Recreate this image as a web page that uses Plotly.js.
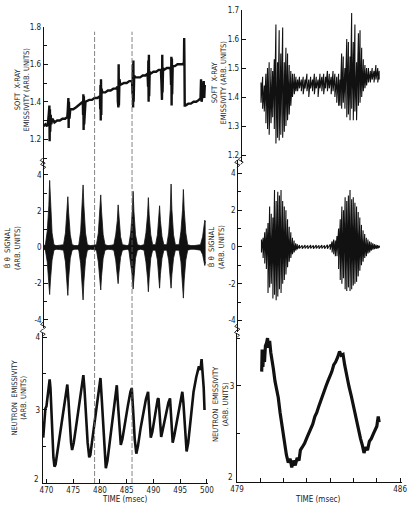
<!DOCTYPE html>
<html><head><meta charset="utf-8">
<script src="https://cdn.plot.ly/plotly-3.0.1.min.js"></script>
<style>html,body{margin:0;padding:0;background:#fff}#chart{width:407px;height:505px}</style>
</head><body><div id="chart"></div>
<script>
// ---------- DATA ----------
// Left column, 470-500 msec
const sxrLeftT = [469.5,469.8,470.1,470.3,470.45,470.5,470.55,470.6,470.65,470.7,470.8,470.9,471.1,471.5,472.0,472.5,473.0,473.5,473.9,474.0,474.05,474.1,474.15,474.2,474.3,474.45,475.0,475.5,476.0,476.5,476.8,476.85,476.9,476.95,477.0,477.05,477.15,477.3,478.0,478.5,479.0,479.5,480.0,480.05,480.1,480.15,480.2,480.25,480.3,480.45,481.0,481.5,482.0,482.5,483.0,483.3,483.35,483.4,483.45,483.5,483.55,483.65,483.8,484.5,485.0,485.5,486.0,486.1,486.15,486.2,486.25,486.3,486.4,486.6,487.0,487.5,488.0,488.5,488.9,489.0,489.05,489.1,489.15,489.2,489.3,489.5,490.0,490.5,491.0,491.4,491.5,491.55,491.6,491.65,491.7,491.8,492.0,492.5,493.0,493.2,493.3,493.35,493.4,493.45,493.5,493.6,494.0,494.5,495.0,495.5,495.7,495.75,495.8,495.85,496.0,496.5,497.0,497.5,498.0,498.5,498.8,498.9,499.0,499.2,499.4,499.5,499.6];
const sxrLeftV = [1.27,1.28,1.27,1.29,1.34,1.22,1.38,1.19,1.36,1.24,1.33,1.28,1.31,1.29,1.30,1.30,1.31,1.31,1.32,1.36,1.27,1.42,1.26,1.40,1.31,1.36,1.36,1.37,1.38,1.39,1.40,1.33,1.44,1.25,1.43,1.28,1.38,1.40,1.41,1.41,1.42,1.42,1.43,1.36,1.49,1.30,1.52,1.33,1.47,1.45,1.45,1.46,1.46,1.47,1.47,1.48,1.40,1.58,1.37,1.60,1.38,1.52,1.49,1.50,1.50,1.51,1.51,1.44,1.60,1.37,1.62,1.40,1.54,1.53,1.53,1.53,1.54,1.54,1.55,1.48,1.62,1.40,1.65,1.43,1.56,1.55,1.56,1.56,1.57,1.57,1.50,1.64,1.41,1.65,1.45,1.58,1.57,1.58,1.58,1.58,1.49,1.64,1.38,1.63,1.44,1.59,1.59,1.60,1.60,1.60,1.61,1.74,1.60,1.38,1.38,1.39,1.39,1.40,1.40,1.41,1.42,1.52,1.40,1.44,1.51,1.42,1.49];

const bLeftT = [469.5,469.8,470.15,470.45,470.6,470.75,471.05,471.4,471.8,472.5,473.2,473.55,473.85,474.0,474.15,474.45,474.8,475.3,475.8,476.05,476.4,476.7,476.85,477.0,477.3,477.65,478.2,478.8,479.35,479.7,480.0,480.15,480.3,480.6,480.95,481.5,482.1,482.6,482.95,483.25,483.4,483.55,483.85,484.2,484.7,485.1,485.4,485.75,486.05,486.2,486.35,486.65,487.0,487.6,488.25,488.6,488.9,489.05,489.2,489.5,489.85,490.4,490.75,491.0,491.15,491.3,491.6,491.95,492.5,492.85,493.15,493.3,493.45,493.75,494.1,494.8,495.15,495.45,495.6,495.75,496.05,496.4,497.0,497.6,498.2,498.8,499.2,499.45,499.6,499.75];
const bLeftUp = [0.1,0.15,0.9,2.3,3.7,2.4,0.8,0.15,0.1,0.12,0.15,0.8,1.9,2.8,1.9,0.7,0.15,0.1,0.1,0.15,0.9,2.2,3.45,2.3,0.8,0.15,0.1,0.12,0.15,0.8,1.9,2.9,2.0,0.7,0.15,0.1,0.12,0.15,0.7,1.5,2.35,1.6,0.6,0.15,0.1,0.1,0.15,0.8,2.0,3.1,2.0,0.7,0.15,0.1,0.15,0.8,1.8,2.75,1.8,0.7,0.15,0.15,0.7,1.5,2.3,1.5,0.6,0.15,0.15,0.8,2.1,3.5,2.1,0.7,0.15,0.15,0.9,2.1,3.2,2.1,0.8,0.15,0.1,0.1,0.12,0.15,0.6,1.2,1.5,1.4];
const bLeftDn = [-0.1,-0.15,-0.8,-1.9,-2.6,-1.8,-0.7,-0.15,-0.1,-0.12,-0.15,-0.8,-1.8,-2.65,-1.7,-0.6,-0.15,-0.1,-0.1,-0.15,-0.9,-2.0,-2.9,-1.9,-0.7,-0.15,-0.1,-0.12,-0.15,-0.8,-1.7,-2.35,-1.6,-0.6,-0.15,-0.1,-0.12,-0.15,-0.7,-1.4,-2.0,-1.4,-0.55,-0.15,-0.1,-0.1,-0.15,-0.8,-1.6,-2.3,-1.6,-0.6,-0.15,-0.1,-0.15,-0.8,-1.7,-2.45,-1.7,-0.6,-0.15,-0.15,-0.7,-1.5,-2.25,-1.5,-0.6,-0.15,-0.15,-0.7,-1.5,-2.25,-1.5,-0.6,-0.15,-0.15,-0.8,-1.9,-2.8,-1.8,-0.7,-0.15,-0.1,-0.1,-0.12,-0.15,-0.4,-0.9,-1.0,-0.8];

const neuLeftT = [469.4,469.6,469.8,470.0,470.2,470.4,470.6,470.75,470.9,471.1,471.3,471.5,471.7,471.9,472.3,472.8,473.3,473.7,473.9,474.1,474.3,474.6,474.8,475.1,475.5,476.0,476.5,476.9,477.1,477.4,477.7,478.0,478.2,478.5,479.0,479.5,479.9,480.1,480.3,480.6,480.9,481.1,481.4,481.8,482.3,482.8,483.15,483.35,483.6,483.9,484.2,484.7,485.2,485.7,485.95,486.2,486.5,486.8,487.1,487.6,488.1,488.6,489.0,489.25,489.5,489.8,490.3,490.8,490.95,491.2,491.45,491.8,492.3,492.8,493.1,493.35,493.6,493.9,494.4,494.9,495.4,495.6,495.9,496.2,496.5,497.0,497.5,498.0,498.5,498.8,499.0,499.2,499.4,499.55];
const neuLeftV = [2.62,2.85,3.02,3.05,3.2,3.3,3.42,3.3,3.0,2.65,2.35,2.22,2.25,2.35,2.55,2.8,3.05,3.25,3.35,3.15,2.85,2.55,2.45,2.55,2.75,3.0,3.3,3.48,3.3,2.9,2.55,2.35,2.38,2.55,2.85,3.15,3.4,3.44,3.2,2.75,2.35,2.2,2.3,2.55,2.85,3.15,3.34,3.1,2.75,2.52,2.6,2.85,3.05,3.25,3.3,3.0,2.6,2.4,2.5,2.75,2.95,3.15,3.25,2.95,2.62,2.7,2.95,3.15,3.16,2.85,2.63,2.75,2.95,3.1,3.16,2.85,2.55,2.65,2.85,3.1,3.25,3.1,2.75,2.43,2.55,2.9,3.25,3.45,3.6,3.55,3.7,3.5,3.3,3.0];

// Right column, expanded 479-486 msec
const sxrRightT  = [480.03,480.10,480.17,480.24,480.31,480.38,480.46,480.53,480.60,480.67,480.74,480.81,480.88,480.96,481.03,481.10,481.17,481.24,481.31,481.38,481.46,481.53,481.60,481.68,481.76,481.84,481.92,482.00,482.08,482.16,482.24,482.32,482.40,482.48,482.56,482.64,482.72,482.80,482.88,482.96,483.04,483.12,483.20,483.28,483.36,483.42,483.49,483.56,483.63,483.71,483.78,483.85,483.92,483.99,484.06,484.13,484.21,484.28,484.35,484.42,484.49,484.56,484.64,484.72,484.80,484.88,484.96,485.04,485.10];
const sxrRightHi = [1.45,1.47,1.44,1.48,1.50,1.52,1.50,1.49,1.53,1.65,1.52,1.63,1.55,1.64,1.52,1.57,1.55,1.51,1.49,1.48,1.48,1.47,1.46,1.47,1.46,1.47,1.46,1.48,1.46,1.47,1.46,1.48,1.47,1.46,1.48,1.47,1.48,1.47,1.49,1.48,1.47,1.49,1.48,1.47,1.48,1.46,1.55,1.54,1.50,1.60,1.59,1.54,1.69,1.59,1.65,1.52,1.62,1.63,1.57,1.53,1.51,1.50,1.50,1.49,1.50,1.49,1.51,1.50,1.49];
const sxrRightLo = [1.38,1.36,1.35,1.31,1.29,1.27,1.31,1.33,1.29,1.24,1.26,1.25,1.27,1.26,1.28,1.30,1.32,1.34,1.37,1.40,1.41,1.42,1.42,1.43,1.42,1.41,1.43,1.42,1.40,1.43,1.42,1.41,1.43,1.40,1.43,1.42,1.41,1.43,1.42,1.43,1.41,1.42,1.40,1.38,1.37,1.37,1.36,1.38,1.36,1.33,1.34,1.32,1.36,1.32,1.35,1.32,1.37,1.38,1.40,1.42,1.43,1.44,1.45,1.45,1.46,1.45,1.46,1.45,1.46];

const bRightT  = [480.05,480.12,480.19,480.26,480.33,480.40,480.47,480.54,480.61,480.68,480.75,480.82,480.89,480.96,481.03,481.10,481.17,481.24,481.31,481.38,481.45,481.52,481.59,481.68,481.80,481.92,482.04,482.16,482.28,482.40,482.52,482.64,482.76,482.88,483.00,483.08,483.15,483.22,483.29,483.36,483.43,483.50,483.57,483.64,483.71,483.78,483.85,483.92,483.99,484.06,484.13,484.20,484.27,484.34,484.41,484.48,484.55,484.62,484.69,484.76,484.83,484.90,484.97,485.04,485.11];
const bRightHi = [0.4,0.5,0.8,1.0,1.3,2.2,1.8,1.6,3.1,2.5,3.0,2.8,3.1,2.5,2.2,2.0,1.5,1.1,0.8,0.5,0.35,0.2,0.15,0.1,0.08,0.1,0.08,0.1,0.08,0.1,0.08,0.1,0.08,0.12,0.15,0.3,0.4,0.35,0.6,1.0,1.5,2.2,2.0,2.7,2.5,2.8,3.1,2.6,2.7,2.4,2.2,1.9,1.6,1.2,0.9,0.7,0.5,0.4,0.3,0.25,0.2,0.15,0.12,0.1,0.06];
const bRightLo = [-0.3,-0.6,-0.9,-1.2,-2.5,-2.2,-2.0,-2.8,-2.6,-2.9,-2.7,-2.3,-2.5,-2.0,-1.8,-1.5,-1.1,-0.8,-0.6,-0.4,-0.3,-0.2,-0.12,-0.08,-0.1,-0.08,-0.1,-0.08,-0.1,-0.08,-0.1,-0.08,-0.1,-0.1,-0.15,-0.3,-0.4,-0.5,-0.5,-1.2,-1.8,-2.0,-1.7,-2.3,-2.4,-2.2,-2.4,-2.3,-2.1,-2.0,-1.9,-1.6,-1.3,-1.0,-0.8,-0.6,-0.5,-0.35,-0.3,-0.2,-0.15,-0.12,-0.1,-0.08,-0.05];

const neuRightT = [480.06,480.08,480.11,480.14,480.18,480.22,480.27,480.31,480.35,480.4,480.45,480.49,480.56,480.63,480.7,480.77,480.85,480.92,481.0,481.06,481.12,481.2,481.28,481.35,481.42,481.5,481.58,481.66,481.72,481.8,481.9,482.0,482.08,482.16,482.25,482.34,482.42,482.5,482.58,482.66,482.74,482.82,482.9,482.99,483.07,483.15,483.23,483.32,483.4,483.47,483.55,483.62,483.71,483.8,483.9,484.0,484.1,484.21,484.3,484.38,484.45,484.52,484.6,484.68,484.76,484.85,484.93,485.0,485.06,485.1];
const neuRightV = [3.15,3.38,3.2,3.32,3.25,3.42,3.45,3.5,3.4,3.47,3.35,3.3,3.18,3.05,2.98,2.88,2.72,2.6,2.45,2.35,2.28,2.2,2.24,2.15,2.22,2.17,2.25,2.22,2.33,2.36,2.4,2.46,2.5,2.55,2.6,2.68,2.72,2.78,2.84,2.88,2.94,3.0,3.05,3.1,3.15,3.22,3.25,3.3,3.36,3.32,3.33,3.22,3.1,3.0,2.9,2.78,2.65,2.54,2.45,2.38,2.3,2.36,2.33,2.42,2.45,2.5,2.55,2.58,2.68,2.62];

// Tick labels / window
const leftTimeTicks = [470,475,480,485,490,495,500];
const rightTimeTicks = [479,480,481,482,483,484,485,486];
const rightTimeText = ['479','','','','','','','486'];
const zoomWindow = [479,486];

// ---------- LAYOUT HELPERS ----------
const W=407,H=505;
const fx=v=>v/W, fy=v=>1-v/H;
const ink='#111';
const fam='"Liberation Sans Narrow","DejaVu Sans Condensed","Liberation Sans",sans-serif';
const tickFont={family:fam,size:8,color:'#222'};
const titleFont={family:fam,size:7.5,color:'#222'};

function interleave(t,hi,lo){const x=[],y=[];for(let i=0;i<t.length;i++){x.push(t[i],t[i]);y.push(hi[i],lo[i]);}return {x,y};}
const sxrR=interleave(sxrRightT,sxrRightHi,sxrRightLo);
const bR=interleave(bRightT,bRightHi,bRightLo);

const traces=[
 {x:sxrLeftT,y:sxrLeftV,xaxis:'x',yaxis:'y',mode:'lines',line:{color:ink,width:2.4}},
 {x:sxrR.x,y:sxrR.y,xaxis:'x2',yaxis:'y2',mode:'lines',line:{color:ink,width:1.1}},
 {x:bLeftT,y:bLeftUp,xaxis:'x3',yaxis:'y3',mode:'lines',line:{color:ink,width:0.8}},
 {x:bLeftT,y:bLeftDn,xaxis:'x3',yaxis:'y3',mode:'lines',line:{color:ink,width:0.8},fill:'tonexty',fillcolor:ink},
 {x:bR.x,y:bR.y,xaxis:'x4',yaxis:'y4',mode:'lines',line:{color:ink,width:1.1}},
 {x:neuLeftT,y:neuLeftV,xaxis:'x5',yaxis:'y5',mode:'lines',line:{color:ink,width:2.6}},
 {x:neuRightT,y:neuRightV,xaxis:'x6',yaxis:'y6',mode:'lines',line:{color:ink,width:3.2}}
];

const yBase={showline:true,linecolor:ink,linewidth:1,ticks:'inside',ticklen:4,tickcolor:ink,tickwidth:1,
  showgrid:false,zeroline:false,tickfont:tickFont,fixedrange:true,ticklabeloverflow:'allow'};
const xHidden={visible:false,showgrid:false,zeroline:false,fixedrange:true};
const xShown={showline:true,linecolor:ink,linewidth:1,ticks:'inside',ticklen:4,tickcolor:ink,tickwidth:1,
  showgrid:false,zeroline:false,tickfont:tickFont,fixedrange:true,ticklabeloverflow:'allow'};

const LX=[fx(42.7),fx(208)], RX=[fx(237),fx(402)];
const layout={
 width:W,height:H,margin:{l:0,r:0,t:0,b:0},paper_bgcolor:'#fff',plot_bgcolor:'rgba(0,0,0,0)',showlegend:false,
 xaxis:Object.assign({},xHidden,{domain:LX,range:[469.3,500.2],anchor:'y'}),
 yaxis:Object.assign({},yBase,{domain:[fy(162.8),fy(26.7)],range:[1.075,1.8],anchor:'free',position:fx(42.7),
   tickvals:[1.2,1.4,1.6,1.8],ticktext:['1.2','1.4','1.6','1.8'],minor:{tickvals:[1.1,1.3,1.5,1.7],ticks:'inside',ticklen:3,tickcolor:ink,showgrid:false}}),
 xaxis2:Object.assign({},xHidden,{domain:RX,range:[479,486.08],anchor:'y2'}),
 yaxis2:Object.assign({},yBase,{domain:[fy(162.3),fy(10)],range:[1.175,1.7],anchor:'free',position:fx(240.7),
   tickvals:[1.2,1.3,1.4,1.5,1.6,1.7],ticktext:['1.2','1.3','1.4','1.5','1.6','1.7']}),
 xaxis3:Object.assign({},xHidden,{domain:LX,range:[469.3,500.2],anchor:'y3'}),
 yaxis3:Object.assign({},yBase,{domain:[fy(328),fy(162.3)],range:[-4.45,4.7],anchor:'free',position:fx(43.2),
   tickvals:[-4,-2,0,2,4],ticktext:['-4','-2','0','2','4'],minor:{tickvals:[-3,-1,1,3],ticks:'inside',ticklen:3,tickcolor:ink,showgrid:false}}),
 xaxis4:Object.assign({},xHidden,{domain:RX,range:[479,486.08],anchor:'y4'}),
 yaxis4:Object.assign({},yBase,{domain:[fy(331.5),fy(160)],range:[-4.6,4.73],anchor:'free',position:fx(237.3),
   tickvals:[-4,-2,0,2,4],ticktext:['-4','-2','0','2','4'],minor:{tickvals:[-3,-1,1,3],ticks:'inside',ticklen:3,tickcolor:ink,showgrid:false}}),
 xaxis5:Object.assign({},xShown,{domain:LX,range:[469.3,500.2],anchor:'y5',tickvals:leftTimeTicks,ticktext:leftTimeTicks.map(String)}),
 yaxis5:Object.assign({},yBase,{domain:[fy(482.7),fy(332.9)],range:[2,4.06],anchor:'x5',
   tickvals:[3,4],ticktext:['3','4'],minor:{tickvals:[2,2.5,3.5],ticks:'inside',ticklen:3,tickcolor:ink,showgrid:false}}),
 xaxis6:Object.assign({},xShown,{domain:RX,range:[479,486.08],anchor:'y6',tickvals:rightTimeTicks,ticktext:rightTimeText}),
 yaxis6:Object.assign({},yBase,{domain:[fy(481.7),fy(333.3)],range:[2,3.55],anchor:'x6',
   tickvals:[3],ticktext:['3'],minor:{tickvals:[2,2.5,3.5],ticks:'inside',ticklen:3,tickcolor:ink,showgrid:false}}),
 annotations:[],
 shapes:[]
};

function ytitle(text,x,y){layout.annotations.push({text:text,xref:'paper',yref:'paper',x:fx(x),y:fy(y),
  xanchor:'center',yanchor:'middle',showarrow:false,textangle:-90,font:titleFont,align:'center'});}
ytitle('SOFT  X-RAY<br>EMISSIVITY (ARB. UNITS)',22.5,90);
ytitle('SOFT  X-RAY<br>EMISSIVITY (ARB. UNITS)',218.5,83);
ytitle('Ḃ θ  SIGNAL<br>(ARB. UNITS)',12,248);
ytitle('Ḃ θ  SIGNAL<br>(ARB. UNITS)',216,247);
ytitle('NEUTRON  EMISSIVITY<br>(ARB. UNITS)',18.5,398);
ytitle('NEUTRON  EMISSIVITY<br>(ARB. UNITS)',220,404);
// bottom "2" labels of the lower y axes, lifted as in the original
[[40.5,479.5],[234.5,477.5]].forEach(p=>layout.annotations.push({text:'2',xref:'paper',yref:'paper',x:fx(p[0]),y:fy(p[1]),
  xanchor:'right',yanchor:'middle',showarrow:false,font:tickFont}));
[[125,499.5],[318,499.5]].forEach(p=>layout.annotations.push({text:'TIME (msec)',xref:'paper',yref:'paper',x:fx(p[0]),y:fy(p[1]),
  xanchor:'center',yanchor:'middle',showarrow:false,font:{family:fam,size:8,color:'#222'}}));

// dashed markers of the expanded window
zoomWindow.forEach(t=>layout.shapes.push({type:'line',xref:'x5',yref:'paper',x0:t,x1:t,y0:fy(483),y1:fy(31.7),
  line:{color:'#666',width:0.8,dash:'5px,2px'}}));

// axis-break zigzags
function brk(x,y){layout.shapes.push({type:'path',xref:'paper',yref:'paper',
  path:`M ${fx(x)},${fy(y)} L ${fx(x-2.5)},${fy(y+2.5)} L ${fx(x+2.5)},${fy(y+5)} L ${fx(x)},${fy(y+7.5)}`,
  line:{color:ink,width:0.9}});}
brk(42.7,158);brk(43.2,162);brk(43.2,322);brk(42.7,329);
brk(240.7,157);brk(237.3,160);brk(237.3,324);brk(237,330);

Plotly.newPlot('chart',traces,layout,{staticPlot:true,displayModeBar:false});
</script></body></html>
